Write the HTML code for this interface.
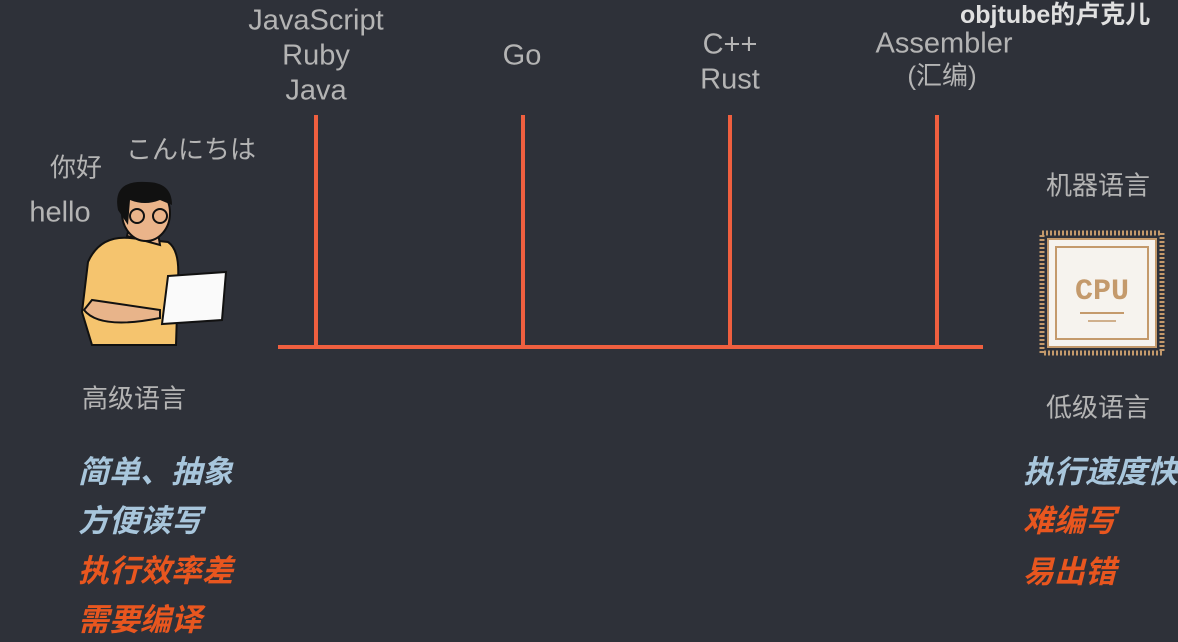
<!DOCTYPE html>
<html><head><meta charset="utf-8"><style>
body{margin:0;width:1178px;height:642px;background:#2e3139;overflow:hidden;position:relative;font-family:"Liberation Sans","Noto Sans CJK SC",sans-serif}
.t{position:absolute;color:#b4b4b4;font-size:29px;white-space:nowrap;transform:translate(-50%,-50%);text-align:center}
.c{font-size:26px}
.b{position:absolute;font-size:31px;font-weight:bold;font-style:italic;white-space:nowrap;transform:translateY(-50%)}
.bl{color:#a8c6dc}.or{color:#e8561f}
.l{position:absolute;background:#ef5f3f}
</style></head><body>
<div class="l" style="left:278px;top:345px;width:705px;height:4px"></div>
<div class="l" style="left:314px;top:115px;width:4px;height:232px"></div>
<div class="l" style="left:521px;top:115px;width:4px;height:232px"></div>
<div class="l" style="left:728px;top:115px;width:4px;height:232px"></div>
<div class="l" style="left:935px;top:115px;width:4px;height:232px"></div>
<div class="t" style="left:316px;top:21px">JavaScript</div>
<div class="t" style="left:316px;top:56px">Ruby</div>
<div class="t" style="left:316px;top:91px">Java</div>
<div class="t" style="left:522px;top:56px">Go</div>
<div class="t" style="left:730px;top:45px">C++</div>
<div class="t" style="left:730px;top:80px">Rust</div>
<div class="t" style="left:944px;top:44px">Assembler</div>
<div class="t" style="left:942px;top:74px;font-size:26px">(汇编)</div>
<div class="t" style="left:960px;top:13px;color:#e0e0e0;font-weight:bold;font-size:25px;transform:translateY(-50%)">objtube的卢克儿</div>
<div class="t c" style="left:191px;top:148px">こんにちは</div>
<div class="t c" style="left:76px;top:166px">你好</div>
<div class="t" style="left:60px;top:213px">hello</div>
<div class="t c" style="left:134px;top:397px">高级语言</div>
<div class="t c" style="left:1098px;top:184px">机器语言</div>
<div class="t c" style="left:1098px;top:406px">低级语言</div>
<div class="b bl" style="left:78px;top:469px">简单、抽象</div>
<div class="b bl" style="left:78px;top:518px">方便读写</div>
<div class="b or" style="left:78px;top:568px">执行效率差</div>
<div class="b or" style="left:78px;top:617px">需要编译</div>
<div class="b bl" style="left:1023px;top:469px">执行速度快</div>
<div class="b or" style="left:1023px;top:518px">难编写</div>
<div class="b or" style="left:1023px;top:569px">易出错</div>
<svg style="position:absolute;left:0;top:0" width="1178" height="642">
<path d="M88 262 Q100 235 130 238 L168 242 Q180 250 178 280 L176 345 L92 345 L82 312 Z" fill="#f5c46e" stroke="#111" stroke-width="2"/>
<path d="M127 236 L132 215 L155 215 L160 245 Z" fill="#e8b48a" stroke="#111" stroke-width="2"/>
<ellipse cx="146" cy="213" rx="24" ry="28" fill="#eab48a" stroke="#111" stroke-width="2"/>
<path d="M118 210 Q112 180 146 182 Q172 182 172 205 L160 200 Q145 206 130 200 L128 225 Z" fill="#111"/>
<circle cx="137" cy="216" r="7" fill="none" stroke="#111" stroke-width="2"/>
<circle cx="160" cy="216" r="7" fill="none" stroke="#111" stroke-width="2"/>
<path d="M84 310 Q100 330 160 318 L160 310 L92 300 Z" fill="#e8b48a" stroke="#111" stroke-width="2"/>
<path d="M168 276 L226 272 L222 320 L162 324 Z" fill="#fafafa" stroke="#111" stroke-width="2"/>
<g>
<rect x="1042" y="233" width="120" height="120" fill="none" stroke="#c49a6c" stroke-width="5" stroke-dasharray="2 2"/>
<rect x="1048" y="239" width="108" height="108" fill="#f6f3ee" stroke="#c49a6c" stroke-width="2"/>
<rect x="1056" y="247" width="92" height="92" fill="none" stroke="#c49a6c" stroke-width="2"/>
<text x="1102" y="299" text-anchor="middle" font-family="Liberation Mono,monospace" font-weight="bold" font-size="30" fill="#c49a6c">CPU</text>
<line x1="1080" y1="313" x2="1124" y2="313" stroke="#c49a6c" stroke-width="2"/>
<line x1="1088" y1="321" x2="1116" y2="321" stroke="#c49a6c" stroke-width="1.5"/>
</g>
</svg>
</body></html>
